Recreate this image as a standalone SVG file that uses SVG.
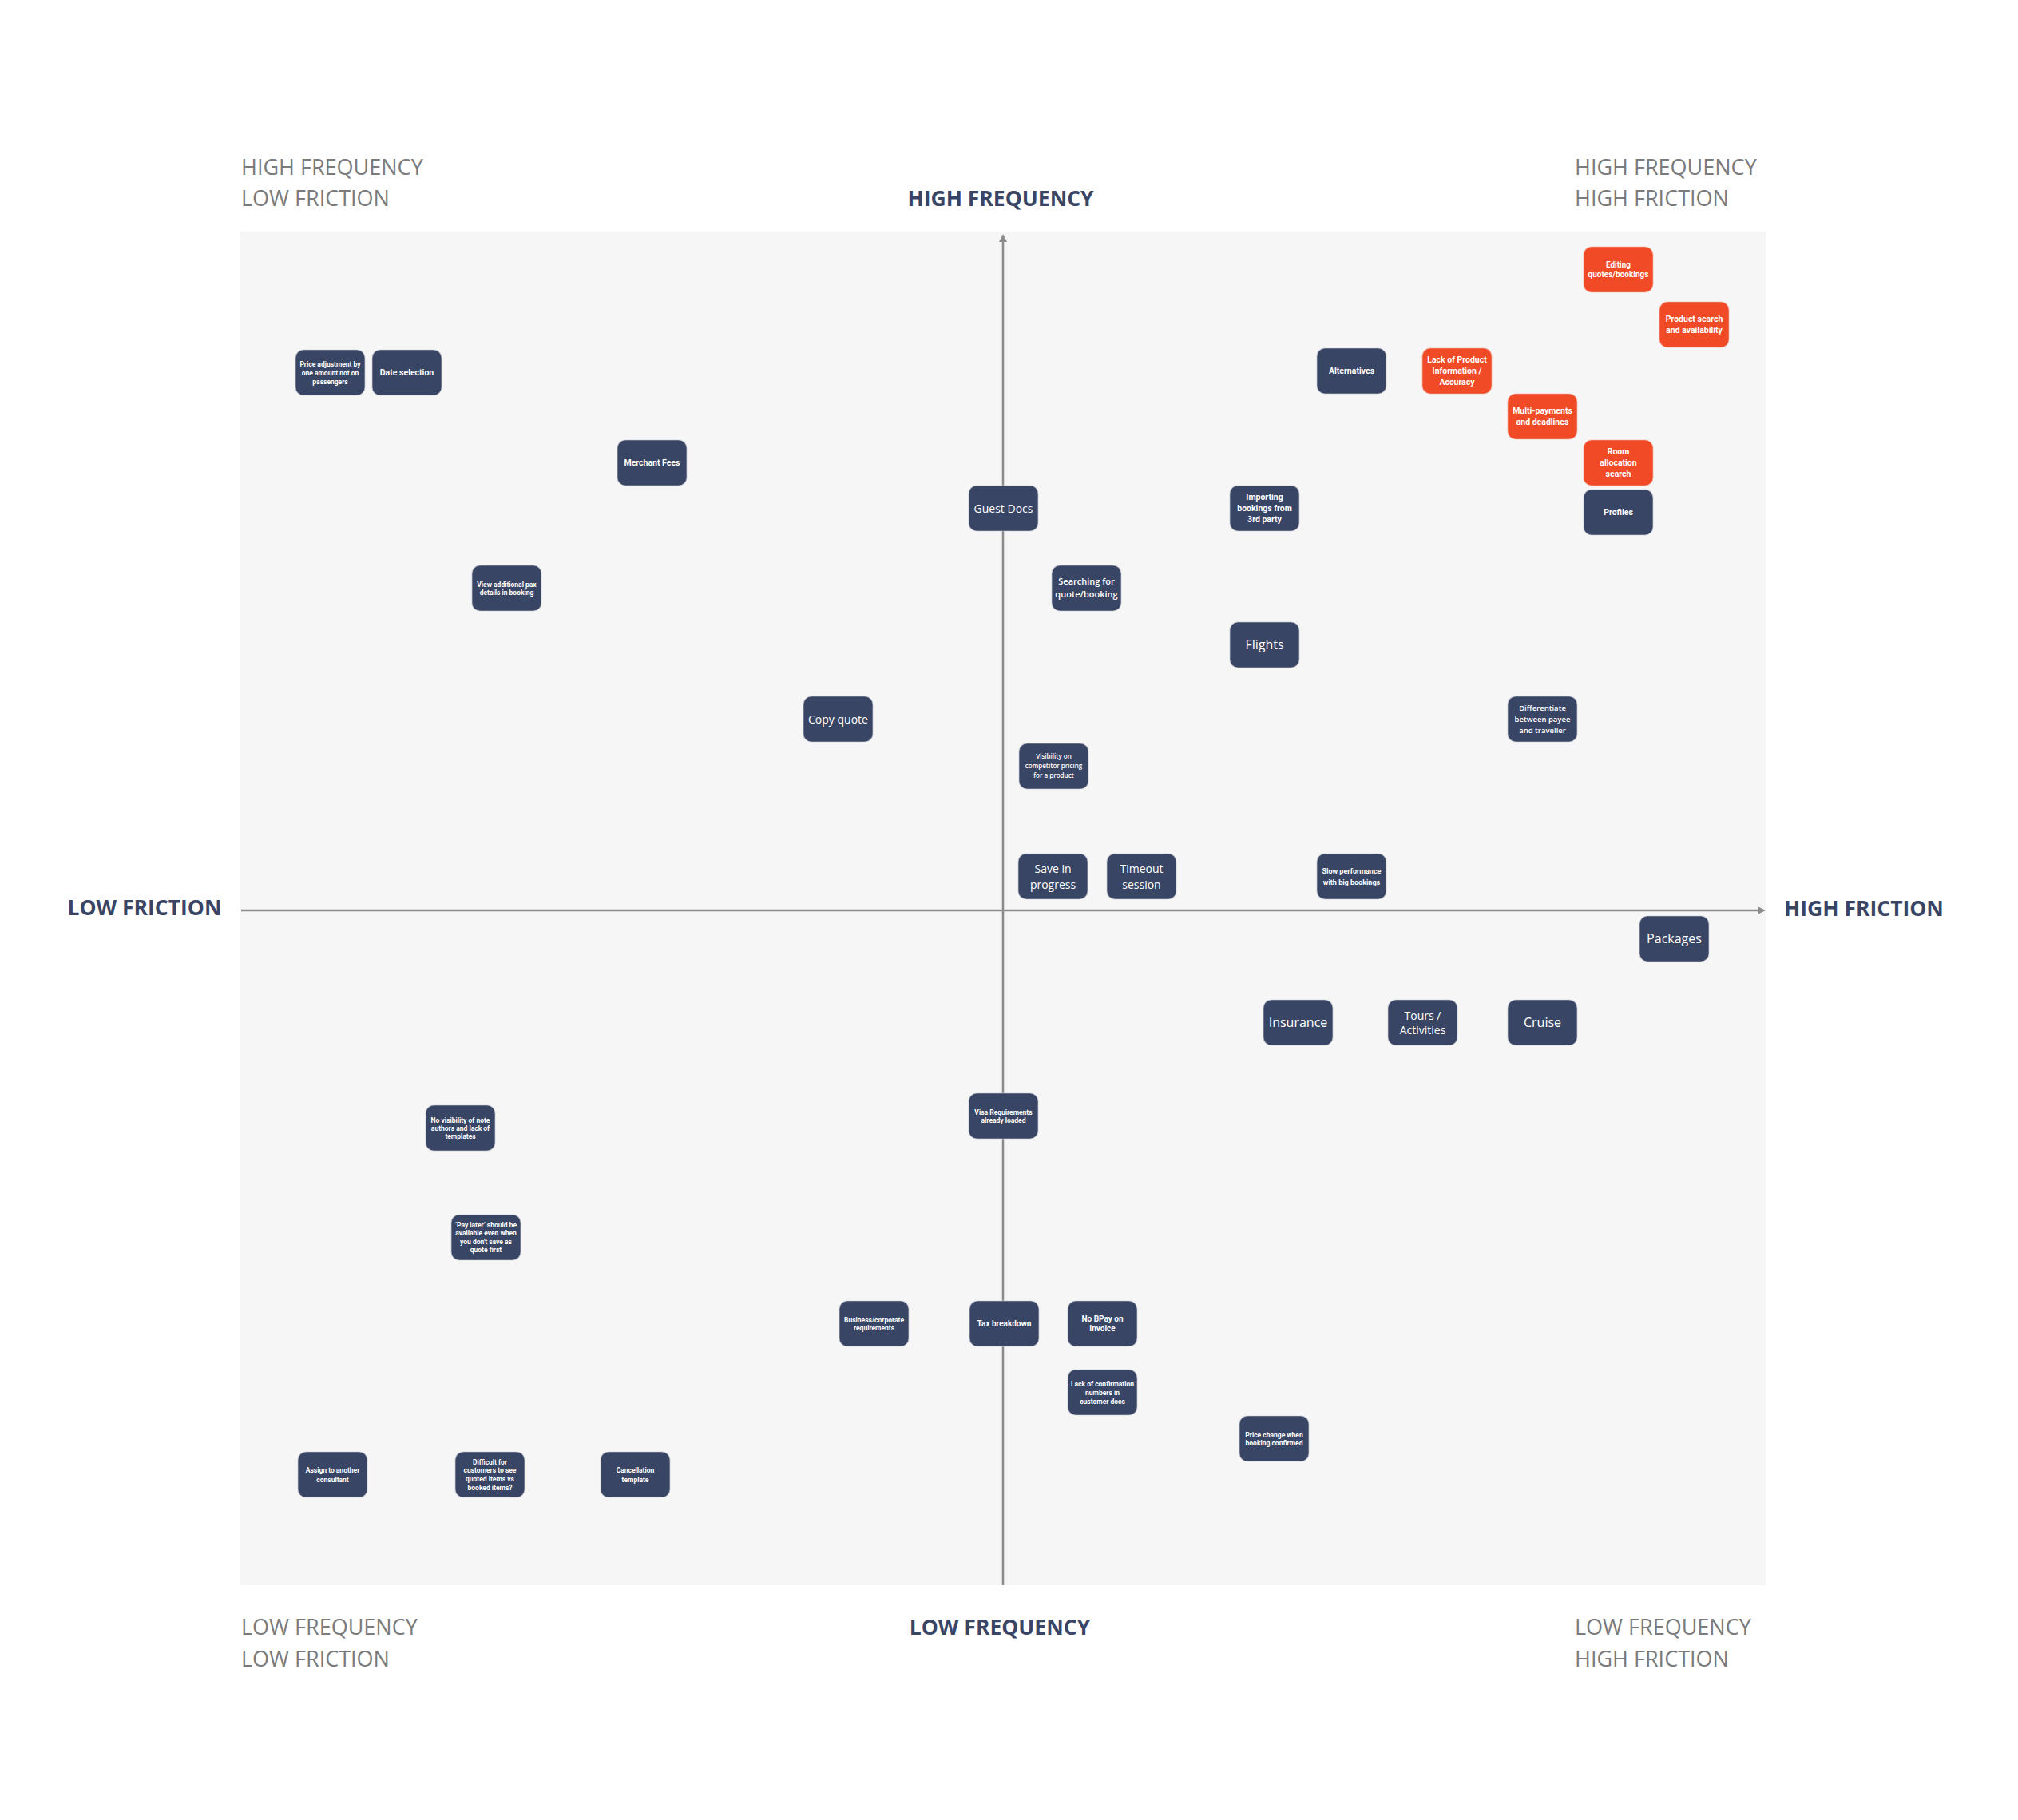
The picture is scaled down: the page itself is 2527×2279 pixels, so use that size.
<svg xmlns="http://www.w3.org/2000/svg" width="2527" height="2279" viewBox="0 0 2527 2279">
<style>
.bg{fill:#f6f6f6}
.n rect{fill:#394564;stroke:#c9ccd4;stroke-width:1.2;stroke-opacity:0.6}
.r rect{fill:#f04a26;stroke:#f3b2a4;stroke-width:1.2;stroke-opacity:0.6}
text{fill:#ffffff;text-anchor:middle}
.big{font-family:"Open Sans","DejaVu Sans",sans-serif;font-size:16px}
.mid{font-family:"Open Sans","DejaVu Sans",sans-serif;font-size:14px}
.os{font-family:"Open Sans","DejaVu Sans",sans-serif;font-weight:600}
.sm{font-family:Roboto,"Liberation Sans",sans-serif;font-size:10.5px;font-weight:700}
.xs{font-family:Roboto,"Liberation Sans",sans-serif;font-size:8.5px;font-weight:700}
.corner{font-family:"Open Sans","DejaVu Sans",sans-serif;font-size:27px;fill:#7b7b7b;text-anchor:start}
.axis{font-family:"Open Sans","DejaVu Sans",sans-serif;font-size:26.5px;font-weight:700;fill:#3a4566}
.ax{stroke:#8c8c8c;stroke-width:2.5;fill:none}
</style>
<defs>
<marker id="arr" viewBox="0 0 10 10" refX="0" refY="5" markerWidth="10" markerHeight="10" markerUnits="userSpaceOnUse" orient="auto">
<path d="M0,0 L10,5 L0,10 z" fill="#8c8c8c"/>
</marker>
</defs>
<rect x="0" y="0" width="2527" height="2279" fill="#ffffff"/>
<rect class="bg" x="301" y="290" width="1910" height="1695"/>

<g id="labels">
<text class="corner" x="302" y="219">HIGH FREQUENCY</text>
<text class="corner" x="302" y="258">LOW FRICTION</text>
<text class="corner" x="1972" y="219">HIGH FREQUENCY</text>
<text class="corner" x="1972" y="258">HIGH FRICTION</text>
<text class="corner" x="302" y="2047">LOW FREQUENCY</text>
<text class="corner" x="302" y="2087">LOW FRICTION</text>
<text class="corner" x="1972" y="2047">LOW FREQUENCY</text>
<text class="corner" x="1972" y="2087">HIGH FRICTION</text>
<text class="axis" x="1253" y="258">HIGH FREQUENCY</text>
<text class="axis" x="1252" y="2047">LOW FREQUENCY</text>
<text class="axis" x="181" y="1146">LOW FRICTION</text>
<text class="axis" x="2334" y="1147">HIGH FRICTION</text>
</g>

<g id="connectors">
<line class="ax" x1="1256" y1="1985" x2="1256" y2="303" marker-end="url(#arr)"/>
<line class="ax" x1="302" y1="1140" x2="2201" y2="1140" marker-end="url(#arr)"/>
</g>

<g id="n-editing" class="r"><rect x="1983" y="309" width="87" height="57" rx="10"/><text class="sm" style="font-size:10px" x="2026.5" y="335">Editing</text><text class="sm" style="font-size:10px" x="2026.5" y="347">quotes/bookings</text></g>
<g id="n-product-search" class="r"><rect x="2078" y="378" width="87" height="57" rx="10"/><text class="sm" x="2121.5" y="403.2">Product search</text><text class="sm" x="2121.5" y="417.2">and availability</text></g>
<g id="n-lack-product" class="r"><rect x="1781" y="436" width="87" height="57" rx="10"/><text class="sm" x="1824.5" y="454.2">Lack of Product</text><text class="sm" x="1824.5" y="468.2">Information /</text><text class="sm" x="1824.5" y="482.2">Accuracy</text></g>
<g id="n-multi-payments" class="r"><rect x="1888" y="493" width="87" height="57" rx="10"/><text class="sm" x="1931.5" y="518.2">Multi-payments</text><text class="sm" x="1931.5" y="532.2">and deadlines</text></g>
<g id="n-room" class="r"><rect x="1983" y="551" width="87" height="57" rx="10"/><text class="sm" x="2026.5" y="569.2">Room</text><text class="sm" x="2026.5" y="583.2">allocation</text><text class="sm" x="2026.5" y="597.2">search</text></g>

<g id="n-price-adj" class="n"><rect x="370" y="438" width="87" height="57" rx="10"/><text class="xs" x="413.5" y="458.5">Price adjustment by</text><text class="xs" x="413.5" y="469.5">one amount not on</text><text class="xs" x="413.5" y="480.5">passengers</text></g>
<g id="n-date" class="n"><rect x="466" y="438" width="87" height="57" rx="10"/><text class="sm" x="509.5" y="470">Date selection</text></g>
<g id="n-merchant" class="n"><rect x="773" y="551" width="87" height="57" rx="10"/><text class="sm" x="816.5" y="583.2">Merchant Fees</text></g>
<g id="n-view-pax" class="n"><rect x="591" y="708" width="87" height="57" rx="10"/><text class="xs" x="634.5" y="734.5">View additional pax</text><text class="xs" x="634.5" y="744.5">details in booking</text></g>
<g id="n-guest-docs" class="n"><rect x="1213" y="608" width="87" height="57" rx="10"/><text class="mid" x="1256.5" y="641.5">Guest Docs</text></g>
<g id="n-searching" class="n"><rect x="1317" y="708" width="87" height="57" rx="10"/><text class="os" style="font-size:11px" x="1360.5" y="732.4">Searching for</text><text class="os" style="font-size:11px" x="1360.5" y="748.4">quote/booking</text></g>
<g id="n-copy-quote" class="n"><rect x="1006" y="872" width="87" height="57" rx="10"/><text class="mid" x="1049.5" y="905.5">Copy quote</text></g>
<g id="n-visibility" class="n"><rect x="1276" y="931" width="87" height="57" rx="10"/><text class="os" style="font-size:8px" x="1319.5" y="950.3">Visibility on</text><text class="os" style="font-size:8px" x="1319.5" y="962.3">competitor pricing</text><text class="os" style="font-size:8px" x="1319.5" y="974.3">for a product</text></g>
<g id="n-alternatives" class="n"><rect x="1649" y="436" width="87" height="57" rx="10"/><text class="sm" x="1692.5" y="468.2">Alternatives</text></g>
<g id="n-importing" class="n"><rect x="1540" y="608" width="87" height="57" rx="10"/><text class="sm" x="1583.5" y="626.2">Importing</text><text class="sm" x="1583.5" y="640.2">bookings from</text><text class="sm" x="1583.5" y="654.2">3rd party</text></g>
<g id="n-flights" class="n"><rect x="1540" y="779" width="87" height="57" rx="10"/><text class="big" x="1583.5" y="813.1">Flights</text></g>
<g id="n-profiles" class="n"><rect x="1983" y="613" width="87" height="57" rx="10"/><text class="sm" x="2026.5" y="645.2">Profiles</text></g>
<g id="n-differentiate" class="n"><rect x="1888" y="872" width="87" height="57" rx="10"/><text class="os" style="font-size:9.5px" x="1931.5" y="889.8">Differentiate</text><text class="os" style="font-size:9.5px" x="1931.5" y="903.8">between payee</text><text class="os" style="font-size:9.5px" x="1931.5" y="917.8">and traveller</text></g>
<g id="n-save" class="n"><rect x="1275" y="1069" width="87" height="57" rx="10"/><text class="mid" x="1318.5" y="1092.5">Save in</text><text class="mid" x="1318.5" y="1112.5">progress</text></g>
<g id="n-timeout" class="n"><rect x="1386" y="1069" width="87" height="57" rx="10"/><text class="mid" x="1429.5" y="1092.5">Timeout</text><text class="mid" x="1429.5" y="1112.5">session</text></g>
<g id="n-slow" class="n"><rect x="1649" y="1069" width="87" height="57" rx="10"/><text class="xs" style="font-size:9px" x="1692.5" y="1093.7">Slow performance</text><text class="xs" style="font-size:9px" x="1692.5" y="1107.7">with big bookings</text></g>
<g id="n-packages" class="n"><rect x="2053" y="1147" width="87" height="57" rx="10"/><text class="big" x="2096.5" y="1181.1">Packages</text></g>
<g id="n-insurance" class="n"><rect x="1582" y="1252" width="87" height="57" rx="10"/><text class="big" x="1625.5" y="1286.1">Insurance</text></g>
<g id="n-tours" class="n"><rect x="1738" y="1252" width="87" height="57" rx="10"/><text class="mid" x="1781.5" y="1276.5">Tours /</text><text class="mid" x="1781.5" y="1294.5">Activities</text></g>
<g id="n-cruise" class="n"><rect x="1888" y="1252" width="87" height="57" rx="10"/><text class="big" x="1931.5" y="1286.1">Cruise</text></g>
<g id="n-no-visibility" class="n"><rect x="533" y="1384" width="87" height="57" rx="10"/><text class="xs" x="576.5" y="1405.5">No visibility of note</text><text class="xs" x="576.5" y="1415.5">authors and lack of</text><text class="xs" x="576.5" y="1425.5">templates</text></g>
<g id="n-visa" class="n"><rect x="1213" y="1369" width="87" height="57" rx="10"/><text class="xs" x="1256.5" y="1395.5">Visa Requirements</text><text class="xs" x="1256.5" y="1405.5">already loaded</text></g>
<g id="n-pay-later" class="n"><rect x="565" y="1521" width="87" height="57" rx="10"/><text class="xs" x="608.5" y="1536.8">‘Pay later’ should be</text><text class="xs" x="608.5" y="1547.3">available even when</text><text class="xs" x="608.5" y="1557.8">you don't save as</text><text class="xs" x="608.5" y="1568.3">quote first</text></g>
<g id="n-business" class="n"><rect x="1051" y="1629" width="87" height="57" rx="10"/><text class="xs" x="1094.5" y="1655.5">Business/corporate</text><text class="xs" x="1094.5" y="1665.5">requirements</text></g>
<g id="n-tax" class="n"><rect x="1214" y="1629" width="87" height="57" rx="10"/><text class="sm" style="font-size:10px" x="1257.5" y="1661">Tax breakdown</text></g>
<g id="n-bpay" class="n"><rect x="1337" y="1629" width="87" height="57" rx="10"/><text class="sm" style="font-size:10px" x="1380.5" y="1655.3">No BPay on</text><text class="sm" style="font-size:10px" x="1380.5" y="1666.8">Invoice</text></g>
<g id="n-lack-confirmation" class="n"><rect x="1337" y="1715" width="87" height="57" rx="10"/><text class="xs" x="1380.5" y="1735.5">Lack of confirmation</text><text class="xs" x="1380.5" y="1746.5">numbers in</text><text class="xs" x="1380.5" y="1757.5">customer docs</text></g>
<g id="n-price-change" class="n"><rect x="1552" y="1773" width="87" height="57" rx="10"/><text class="xs" x="1595.5" y="1799.5">Price change when</text><text class="xs" x="1595.5" y="1809.5">booking confirmed</text></g>
<g id="n-assign" class="n"><rect x="373" y="1818" width="87" height="57" rx="10"/><text class="xs" x="416.5" y="1843.5">Assign to another</text><text class="xs" x="416.5" y="1855.5">consultant</text></g>
<g id="n-difficult" class="n"><rect x="570" y="1818" width="87" height="57" rx="10"/><text class="xs" x="613.5" y="1833.5">Difficult for</text><text class="xs" x="613.5" y="1844.2">customers to see</text><text class="xs" x="613.5" y="1854.9">quoted items vs</text><text class="xs" x="613.5" y="1865.6">booked items?</text></g>
<g id="n-cancellation" class="n"><rect x="752" y="1818" width="87" height="57" rx="10"/><text class="xs" x="795.5" y="1843.5">Cancellation</text><text class="xs" x="795.5" y="1855.5">template</text></g>
</svg>
